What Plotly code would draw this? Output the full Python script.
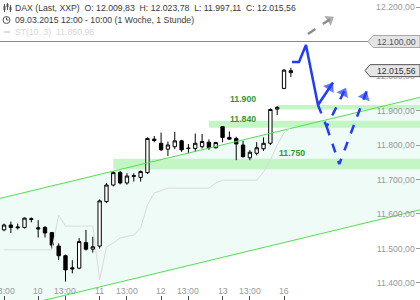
import plotly.graph_objects as go

# ---------------- data ----------------
# hourly candle index: 0 = 09.03.2015 09:00, 9 candles per trading day (09:00-17:00)
candle_idx = list(range(4, 47))
opens = [11554, 11568, 11560, 11561, 11584, 11560, 11561, 11546, 11507, 11479,
         11444, 11443, 11517, 11498, 11507, 11636, 11684, 11720, 11690, 11709,
         11706, 11720, 11817, 11805, 11788, 11795, 11812, 11791, 11790, 11795,
         11808, 11792, 11853, 11822, 11819, 11800, 11763, 11776, 11789, 11805,
         11904, 11964, 12009.83]
highs = [11572, 11578, 11572, 11590, 11590, 11582, 11565, 11548, 11515, 11482,
         11466, 11530, 11554, 11534, 11642, 11690, 11724, 11725, 11718, 11718,
         11726, 11822, 11826, 11836, 11810, 11838, 11815, 11803, 11833, 11832,
         11816, 11809, 11855, 11839, 11824, 11812, 11785, 11808, 11822, 11906,
         11913, 12020, 12023.78]
lows = [11550, 11545, 11555, 11558, 11576, 11532, 11532, 11500, 11467, 11404,
        11428, 11440, 11494, 11488, 11500, 11632, 11680, 11686, 11685, 11694,
        11694, 11716, 11808, 11783, 11768, 11788, 11780, 11776, 11780, 11790,
        11786, 11790, 11808, 11815, 11756, 11764, 11756, 11770, 11783, 11800,
        11887, 11962, 11997.11]
closes = [11568, 11561, 11562, 11588, 11586, 11557, 11545, 11510, 11479, 11438,
          11441, 11520, 11498, 11505, 11638, 11684, 11720, 11690, 11710, 11711,
          11723, 11819, 11813, 11786, 11800, 11812, 11786, 11790, 11805, 11810,
          11792, 11807, 11822, 11817, 11803, 11766, 11779, 11792, 11805, 11903,
          11909, 12017, 12015.56]

# SuperTrend (10, 3)
st_vals = [11496, 11496, 11496, 11496, 11496, 11496, 11496, 11496, 11597, 11565,
           11565, 11565, 11565, 11565, 11409, 11504, 11516, 11530, 11535, 11539,
           11560, 11626, 11661, 11668, 11675, 11675, 11675, 11675, 11675, 11675,
           11675, 11690, 11698, 11698, 11698, 11698, 11698, 11698, 11722, 11756,
           11800, 11835, 11850.98]

x_tick_idx = [4, 9, 13, 18, 22, 27, 31, 36, 40, 45]
x_tick_text = ["13:00", "10", "13:00", "11", "13:00", "12", "13:00", "13", "13:00", "16"]
y_ticks = [11400, 11500, 11600, 11700, 11800, 11900, 12000, 12100, 12200]

# trend channel
channel_x = [0, 66]
channel_upper = [11629, 11943.5]
channel_lower = [11302.8, 11617.3]

# support / resistance zones
zone_text = ["11.750", "11.840", "11.900"]
zone_lo = [11730, 11850, 11903]
zone_hi = [11760, 11870, 11916]
zone_start = [20, 34, 44]
zone_label_x = [46.1, 39.0, 39.0]
zone_label_y = [11778, 11874, 11932]

resistance = 12100
last_close = 12015.56

# projected paths
proj_solid_x = [46.16, 47.19, 48.21, 49.97, 52.17]
proj_solid_y = [12040.6, 12040.6, 12089.9, 11915.9, 11981.0]
proj_dash1_x = [49.97, 51.24, 54.07]
proj_dash1_y = [11915.9, 11853.0, 11966.0]
proj_dash2_x = [51.24, 53.09, 57.1]
proj_dash2_y = [11853.0, 11744.9, 11956.0]
proj_grey_x = [48.5, 52.3]
proj_grey_y = [12121.7, 12172.0]

X_RANGE = [3.41, 64.91]
Y_RANGE = [11350.7, 12220.3]
W, H = 420, 300

BLUE = "#1f3cff"
GREY_ARROW = "#8c8c8c"
GREEN_LINE = "#4fe04f"
FONT = "Liberation Sans, Arial, sans-serif"


def px(x):
    return x / W


def py(y):
    return 1 - y / H


fig = go.Figure()

shapes = []
# channel fill
shapes.append(dict(type="path", xref="x", yref="y", layer="below",
                   path=f"M {channel_x[0]},{channel_upper[0]} L {channel_x[1]},{channel_upper[1]} "
                        f"L {channel_x[1]},{channel_lower[1]} L {channel_x[0]},{channel_lower[0]} Z",
                   fillcolor="#effbf6", line=dict(width=0)))
# zones
for lo, hi, st in zip(zone_lo, zone_hi, zone_start):
    shapes.append(dict(type="rect", xref="x", yref="y", layer="below",
                       x0=st, x1=80, y0=lo, y1=hi,
                       fillcolor="#c4f5c4", line=dict(width=0)))
# resistance line
shapes.append(dict(type="line", xref="paper", yref="y", layer="below",
                   x0=0, x1=368 / W, y0=resistance, y1=resistance,
                   line=dict(color="#8a8a8a", width=1)))
# price tags
shapes.append(dict(type="path", xref="paper", yref="y", xsizemode="pixel", ysizemode="pixel",
                   xanchor=1, yanchor=resistance, layer="above",
                   path="M -52,0 L -47,6 L 0,6 L 0,-6 L -47,-6 Z",
                   fillcolor="#e4e4e4", line=dict(color="#a8a8a8", width=1)))
shapes.append(dict(type="path", xref="paper", yref="y", xsizemode="pixel", ysizemode="pixel",
                   xanchor=1, yanchor=last_close, layer="above",
                   path="M -55,0 L -50,6 L 0,6 L 0,-6 L -50,-6 Z",
                   fillcolor="#e6e6e6", line=dict(color="#555555", width=1)))

# header icons
for cx, top, bot, b0, b1 in [(4.5, 4, 12, 6, 10), (7.5, 3, 10, 4, 7), (10.5, 5, 12, 7, 10)]:
    shapes.append(dict(type="line", xref="paper", yref="paper", x0=px(cx), x1=px(cx),
                       y0=py(top), y1=py(bot), line=dict(color="#555", width=1), layer="above"))
    shapes.append(dict(type="rect", xref="paper", yref="paper", x0=px(cx - 1), x1=px(cx + 1),
                       y0=py(b0), y1=py(b1), fillcolor="#555", line=dict(width=0), layer="above"))
shapes.append(dict(type="circle", xref="paper", yref="paper", x0=px(3), x1=px(10),
                   y0=py(16.5), y1=py(23.5), line=dict(color="#555", width=1), layer="above"))
shapes.append(dict(type="path", xref="paper", yref="paper",
                   path=f"M {px(6.5)},{py(17.5)} L {px(6.5)},{py(20)} L {px(8.5)},{py(20)}",
                   line=dict(color="#555", width=1), layer="above"))
shapes.append(dict(type="line", xref="paper", yref="paper", x0=px(4), x1=px(10),
                   y0=py(32), y1=py(32), line=dict(color="#dcdcdc", width=2), layer="above"))

# channel lines
for vals in (channel_upper, channel_lower):
    fig.add_trace(go.Scatter(x=channel_x, y=vals, mode="lines",
                             line=dict(color=GREEN_LINE, width=1), hoverinfo="skip"))

# candles
fig.add_trace(go.Candlestick(
    x=candle_idx, open=opens, high=highs, low=lows, close=closes,
    increasing=dict(fillcolor="white", line=dict(color="black", width=1)),
    decreasing=dict(fillcolor="black", line=dict(color="black", width=1)),
    whiskerwidth=0, hoverinfo="skip"))

# SuperTrend
fig.add_trace(go.Scatter(x=candle_idx, y=st_vals, mode="lines",
                         line=dict(color="#dadada", width=1), hoverinfo="skip"))


def add_arrow_path(xs, ys, color, dash, head=11):
    n = len(xs)
    fig.add_trace(go.Scatter(
        x=xs, y=ys, mode="lines+markers",
        line=dict(color=color, width=2.5, dash=dash),
        marker=dict(symbol="triangle-up", size=[0] * (n - 1) + [head], color=color,
                    angleref="previous", standoff=[0] * (n - 1) + [head / 2],
                    line=dict(width=0)),
        hoverinfo="skip"))


add_arrow_path(proj_solid_x, proj_solid_y, BLUE, "solid")
add_arrow_path(proj_dash1_x, proj_dash1_y, BLUE, "dash")
add_arrow_path(proj_dash2_x, proj_dash2_y, BLUE, "dash")
add_arrow_path(proj_grey_x, proj_grey_y, GREY_ARROW, "dash", head=10)

annotations = []
# zone labels
for t, lx, ly in zip(zone_text, zone_label_x, zone_label_y):
    annotations.append(dict(x=lx, y=ly, xref="x", yref="y", text=f"<b>{t}</b>",
                            showarrow=False, font=dict(size=8.7, color="#2e9a2e", family=FONT)))

# x tick labels (placed above the inside tick marks)
for tv, tt in zip(x_tick_idx, x_tick_text):
    annotations.append(dict(x=tv, y=py(291), xref="x", yref="paper", text=tt,
                            showarrow=False, xanchor="center", yanchor="middle",
                            font=dict(size=8.7, color="#999", family=FONT)))

# tag texts
annotations.append(dict(x=418 / W, y=resistance, xref="paper", yref="y", xanchor="right",
                        text="12.100,00", showarrow=False,
                        font=dict(size=8.7, color="#555", family=FONT)))
annotations.append(dict(x=418 / W, y=last_close, xref="paper", yref="y", xanchor="right",
                        text="12.015,56", showarrow=False,
                        font=dict(size=8.7, color="#333", family=FONT)))

# header texts
annotations.append(dict(x=px(13), y=py(8), xref="paper", yref="paper", xanchor="left",
                        yanchor="middle", showarrow=False,
                        text="DAX (Last, XXP)  O: 12.009,83  H: 12.023,78  L: 11.997,11  C: 12.015,56",
                        font=dict(size=8.7, color="#3a3a3a", family=FONT)))
annotations.append(dict(x=px(13), y=py(20), xref="paper", yref="paper", xanchor="left",
                        yanchor="middle", showarrow=False,
                        text="09.03.2015 12:00 - 10:00 (1 Woche, 1 Stunde)",
                        font=dict(size=8.7, color="#3a3a3a", family=FONT)))
annotations.append(dict(x=px(13), y=py(32), xref="paper", yref="paper", xanchor="left",
                        yanchor="middle", showarrow=False,
                        text="ST(10, 3)  11.850,98",
                        font=dict(size=8.7, color="#d8d8d8", family=FONT)))

fig.update_layout(
    width=W, height=H, autosize=False,
    margin=dict(l=0, r=0, t=0, b=0, pad=0),
    paper_bgcolor="white", plot_bgcolor="white",
    showlegend=False, separators=",.",
    font=dict(family=FONT),
    shapes=shapes, annotations=annotations,
    xaxis=dict(range=X_RANGE, rangeslider=dict(visible=False), showgrid=False,
               zeroline=False, showline=False, tickmode="array",
               tickvals=x_tick_idx, ticktext=x_tick_text, showticklabels=False,
               ticks="inside", ticklen=4, tickcolor="#444", tickwidth=1),
    yaxis=dict(range=Y_RANGE, side="right", showgrid=False, zeroline=False,
               showline=False, tickmode="array", tickvals=y_ticks,
               tickformat=",.2f", ticks="inside", ticklen=4, tickcolor="#999",
               ticklabelposition="inside", ticklabeloverflow="allow",
               tickfont=dict(size=8.7, color="#999", family=FONT)),
)

fig.write_html("out.html")
